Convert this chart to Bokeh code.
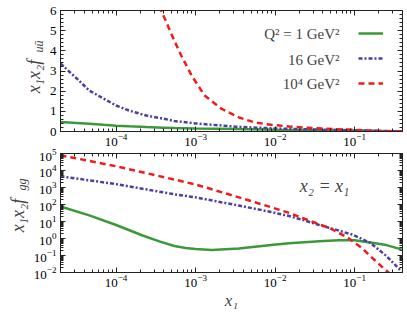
import math
from bokeh.plotting import figure
from bokeh.layouts import column, row
from bokeh.models import (FixedTicker, Label, Legend, LegendItem, LinearAxis,
                          LogAxis, Range1d)
from bokeh.embed import file_html
from bokeh.resources import INLINE

# ---------------- data ----------------
# top panel: x1 x2 f_uubar (linear)
x_top = [2e-5, 3.2e-5, 4.6e-5, 6.9e-5, 1e-4, 1.45e-4, 2.4e-4, 3.9e-4, 5.4e-4,
         1e-3, 3.2e-3, 1e-2, 3.2e-2, 0.1, 0.2, 0.4]
uu_q1 = [0.47, 0.42, 0.38, 0.33, 0.29, 0.26, 0.22, 0.19, 0.17,
         0.15, 0.12, 0.09, 0.065, 0.04, 0.022, 0.008]
uu_q16 = [3.37, 2.63, 2.03, 1.64, 1.29, 1.04, 0.79, 0.64, 0.52,
          0.40, 0.24, 0.15, 0.10, 0.06, 0.03, 0.005]
x_top_q1e4 = [3.2e-4, 3.7e-4, 5.4e-4, 6.6e-4, 8.9e-4, 1.3e-3, 2.1e-3, 3.5e-3,
              5.5e-3, 8.9e-3, 1.5e-2, 3.2e-2, 0.1, 0.2, 0.4]
uu_q1e4 = [7.2, 6.0, 4.5, 3.77, 2.78, 1.78, 1.14, 0.70,
           0.45, 0.33, 0.25, 0.16, 0.08, 0.03, 0.005]

# bottom panel: x1 x2 f_gg (log), x2 = x1
x_gg_q1 = [2e-5, 4.6e-5, 1e-4, 2.2e-4, 3.5e-4, 5.4e-4, 7.5e-4, 1e-3, 1.6e-3,
           3.5e-3, 8.9e-3, 1.5e-2, 3.6e-2, 6.3e-2, 0.1, 0.174, 0.25, 0.39]
gg_q1 = [76, 23, 6.2, 1.45, 0.68, 0.36, 0.28, 0.24, 0.21,
         0.26, 0.41, 0.52, 0.69, 0.79, 0.78, 0.55, 0.41, 0.23]
x_gg_q16 = [2e-5, 1e-4, 5.4e-4, 1e-3, 3.5e-3, 8.9e-3, 1.5e-2, 2.2e-2, 3.6e-2,
            5.9e-2, 9.5e-2, 0.158, 0.25, 0.39]
gg_q16 = [4570, 1580, 400, 263, 87, 36, 21, 12.6, 6.2,
          3.2, 1.66, 0.55, 0.095, 0.0115]
x_gg_q1e4 = [2e-5, 1e-4, 5.4e-4, 1e-3, 3.5e-3, 8.9e-3, 1.5e-2, 2.6e-2, 4.9e-2,
             8.3e-2, 0.123, 0.182, 0.25, 0.316]
gg_q1e4 = [79000, 17800, 2950, 1510, 263, 69, 32, 12, 4.0,
           1.07, 0.28, 0.049, 0.013, 0.005]

legend_labels = ["Q² = 1 GeV²", "16 GeV²", "10⁴ GeV²"]
x_major = [1e-4, 1e-3, 1e-2, 1e-1]
y_top_major = [0, 1, 2, 3, 4, 5, 6]
y_bot_major = [1e-2, 1e-1, 1e0, 1e1, 1e2, 1e3, 1e4, 1e5]

# ---------------- styles ----------------
SERIF = "Liberation Serif"
GREEN = "#3a9a3a"
BLUE = "#4b3f9f"
RED = "#ee1c1c"
FRAME = "#222222"

x_minor = [m * 10.0 ** e for e in range(-5, 0) for m in range(2, 10)]
y_top_minor = [i / 5 for i in range(0, 31)]
y_bot_minor = [m * 10.0 ** e for e in range(-2, 5) for m in range(2, 10)]


def style_axis(ax, labels=True):
    ax.axis_line_color = FRAME
    ax.major_tick_line_color = FRAME
    ax.minor_tick_line_color = FRAME
    ax.major_tick_in = 5
    ax.major_tick_out = 0
    ax.minor_tick_in = 3
    ax.minor_tick_out = 0
    ax.major_label_text_font = SERIF
    ax.major_label_text_color = "black"
    ax.major_label_standoff = 2
    ax.major_label_text_font_size = "13px"
    if not labels:
        ax.major_label_text_font_size = "2px"
        ax.major_label_text_alpha = 0
        ax.major_label_standoff = 0


def make_fig(width, height, y_type, y_range, b_left, b_top, b_bottom, yt, ym):
    p = figure(width=width, height=height, x_axis_type="log", y_axis_type=y_type,
               x_range=Range1d(2e-5, 0.4), y_range=Range1d(*y_range),
               output_backend="svg", toolbar_location=None,
               min_border_left=b_left, min_border_right=5,
               min_border_top=b_top, min_border_bottom=b_bottom)
    p.xgrid.visible = False
    p.ygrid.visible = False
    p.outline_line_color = FRAME
    p.background_fill_color = "white"
    p.border_fill_color = "white"
    p.xaxis.ticker = FixedTicker(ticks=x_major, minor_ticks=x_minor)
    p.yaxis.ticker = FixedTicker(ticks=yt, minor_ticks=ym)
    for ax in p.xaxis + p.yaxis:
        style_axis(ax)
    p.yaxis.major_label_standoff = 4
    top = LogAxis(ticker=FixedTicker(ticks=x_major, minor_ticks=x_minor))
    style_axis(top, labels=False)
    p.add_layout(top, "above")
    if y_type == "log":
        right = LogAxis(ticker=FixedTicker(ticks=yt, minor_ticks=ym))
    else:
        right = LinearAxis(ticker=FixedTicker(ticks=yt, minor_ticks=ym))
    style_axis(right, labels=False)
    p.add_layout(right, "right")
    return p


def label_fig(width, height, main, sub, main_xy, sub_xy):
    # narrow companion figure that only carries the rotated y-axis title;
    # its frame is aligned with the neighbouring panel's frame by the row layout
    f = figure(width=width, height=height, output_backend="svg", toolbar_location=None,
               x_axis_location=None, y_axis_location=None,
               x_range=Range1d(0, 1), y_range=Range1d(0, 1),
               min_border=0, outline_line_color=None)
    f.xgrid.visible = False
    f.ygrid.visible = False
    f.add_layout(Label(x=main_xy[0], y=main_xy[1], x_units="screen", y_units="screen",
                       text=main, angle=math.pi / 2, text_align="center",
                       text_baseline="middle", text_font=SERIF,
                       text_font_style="italic", text_font_size="18px"))
    f.add_layout(Label(x=sub_xy[0], y=sub_xy[1], x_units="screen", y_units="screen",
                       text=sub, angle=math.pi / 2, text_align="center",
                       text_baseline="middle", text_font=SERIF,
                       text_font_style="italic", text_font_size="12px"))
    return f


# ---------------- top panel ----------------
LW1 = 46
p1 = make_fig(407 - LW1, 148, "linear", (0, 6), 59 - LW1, 10, 17, y_top_major, y_top_minor)
r1 = p1.line(x_top, uu_q1, line_color=GREEN, line_width=2.5)
r2 = p1.line(x_top, uu_q16, line_color=BLUE, line_width=2.5, line_dash="4 2 2 2")
r3 = p1.line(x_top_q1e4, uu_q1e4, line_color=RED, line_width=2.5, line_dash="6 4")

legend = Legend(items=[LegendItem(label="·", renderers=[r]) for r in (r1, r2, r3)],
                location=(298, 38), padding=0, margin=0, spacing=5,
                glyph_width=25, glyph_height=20, label_standoff=0,
                label_text_font_size="4px", label_text_alpha=0,
                border_line_color=None, background_fill_alpha=0)
p1.add_layout(legend)
for txt, yy in zip(legend_labels, [98, 72, 48]):
    p1.add_layout(Label(x=279, y=yy, x_units="screen", y_units="screen", text=txt,
                        text_align="right", text_baseline="middle",
                        text_font=SERIF, text_font_size="15px"))

lab1 = label_fig(LW1, 148, "x₁x₂f", "uū", (33, 55), (38, 85))

# ---------------- bottom panel ----------------
LW2 = 30
p2 = make_fig(407 - LW2, 164, "log", (1e-2, 1e5), 59 - LW2, 5, 37, y_bot_major, y_bot_minor)
p2.line(x_gg_q1, gg_q1, line_color=GREEN, line_width=2.5)
p2.line(x_gg_q16, gg_q16, line_color=BLUE, line_width=2.5, line_dash="4 2 2 2")
p2.line(x_gg_q1e4, gg_q1e4, line_color=RED, line_width=2.5, line_dash="6 4")
xb = p2.below[0]
xb.axis_label = "x₁"
xb.axis_label_text_font = SERIF
xb.axis_label_text_font_style = "italic"
xb.axis_label_text_font_size = "17px"
xb.axis_label_standoff = 1

p2.add_layout(Label(x=264, y=87, x_units="screen", y_units="screen", text="x₂ = x₁",
                    text_align="center", text_baseline="middle",
                    text_font=SERIF, text_font_style="italic", text_font_size="18px"))

lab2 = label_fig(LW2, 164, "x₁x₂f", "gg", (17, 57), (21, 88))

layout = column(row(lab1, p1, spacing=0), row(lab2, p2, spacing=0), spacing=0)
open("out.html", "w").write(file_html(layout, INLINE))
